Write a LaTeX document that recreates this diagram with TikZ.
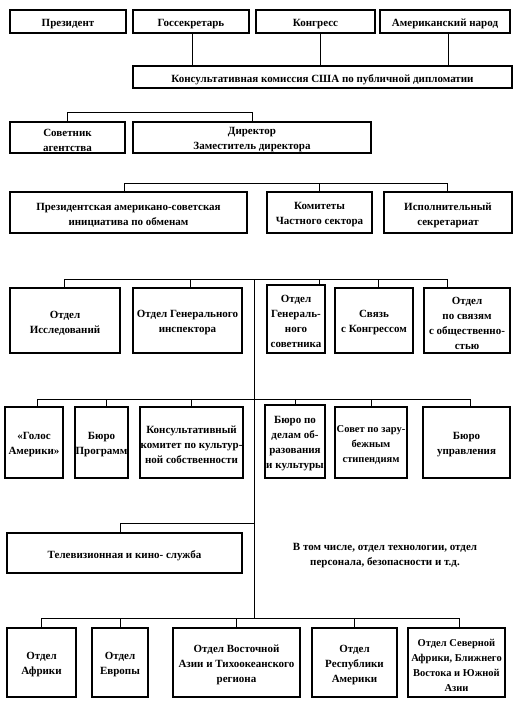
\documentclass[tikz,border=0pt]{standalone}
\usepackage{fontspec}
\setmainfont{Liberation Serif}
\begin{document}
\begin{tikzpicture}[x=1pt,y=-1pt,
  box/.style={draw,line width=1.1pt,inner sep=0pt},
  boxtext/.style={inner sep=0pt,align=center,
    font=\bfseries\fontsize{11}{15}\selectfont},
  small/.style={font=\bfseries\fontsize{10.5}{15}\selectfont},
  link/.style={line width=0.9pt}]
\useasboundingbox (0,0) rectangle (521,706);
% helper: \bx[textstyle]{name}{x1}{y1}{x2}{y2}{text}
\newcommand{\bx}[7][]{\node[box,minimum width={#5-#3},minimum height={#6-#4}] (#2) at ({(#3+#5)/2},{(#4+#6)/2}) {};
  \node[boxtext,#1] (#2-t) at ([yshift=-2.5pt]#2.center) {#7};}
% Row 1
\bx{pres}{10}{10}{126}{33}{Президент}
\bx{gos}{133}{10}{249}{33}{Госсекретарь}
\bx{kon}{256}{10}{375}{33}{Конгресс}
\bx{nar}{380}{10}{510}{33}{Американский народ}
\bx{com}{133}{66}{512}{88}{Консультативная комиссия США по публичной дипломатии}
% Row 2
\bx{sov}{10}{122}{125}{153}{Советник\\агентства}
\bx{dir}{133}{122}{371}{153}{Директор\\Заместитель директора}
% Row 3
\bx{pai}{10}{192}{247}{233}{Президентская американо-советская\\инициатива по обменам}
\bx{kom}{267}{192}{372}{233}{Комитеты\\Частного сектора}
\bx{isp}{384}{192}{512}{233}{Исполнительный\\секретариат}
% Row 4
\bx{iss}{10}{288}{120}{353}{Отдел\\Исследований}
\bx{gin}{133}{288}{242}{353}{Отдел Генерального\\инспектора}
\bx{gso}{267}{285}{325}{353}{Отдел\\Генераль-\\ного\\советника}
\bx{svk}{335}{288}{413}{353}{Связь\\с Конгрессом}
\bx{sob}{424}{288}{510}{353}{Отдел\\по связям\\с общественно-\\стью}
% Row 5
\bx{gol}{5}{407}{63}{478}{«Голос\\Америки»}
\bx{bpr}{75}{407}{128}{478}{Бюро\\Программ}
\bx{kks}{140}{407}{243}{478}{Консультативный\\комитет по культур-\\ной собственности}
\bx{bok}{265}{405}{325}{478}{Бюро по\\делам об-\\разования\\и культуры}
\bx[small]{szs}{335}{407}{407}{478}{Совет по зару-\\бежным\\стипендиям}
\bx{bup}{423}{407}{510}{478}{Бюро\\управления}
% TV
\bx{tv}{7}{533}{242}{573}{Телевизионная и кино- служба}
\node[boxtext] (note) at (385,556)
  {В том числе, отдел технологии, отдел\\персонала, безопасности и т.д.};
% Bottom row
\bx{afr}{7}{628}{76}{697}{Отдел\\Африки}
\bx{evr}{92}{628}{148}{697}{Отдел\\Европы}
\bx{vaz}{173}{628}{300}{697}{Отдел Восточной\\Азии и Тихоокеанского\\региона}
\bx{ram}{312}{628}{397}{697}{Отдел\\Республики\\Америки}
\bx[small]{sab}{408}{628}{505}{697}{Отдел Северной\\Африки, Ближнего\\Востока и Южной\\Азии}

% connectors row1 -> commission
\draw[link] ([xshift=1pt]gos.south) -- ([xshift=1pt]gos.south |- com.north);
\draw[link] ([xshift=4.5pt]kon.south) -- ([xshift=4.5pt]kon.south |- com.north);
\draw[link] ([xshift=3pt]nar.south) -- ([xshift=3pt]nar.south |- com.north);
% bar sov/dir
\coordinate (r2) at (0,112);
\draw[link] (sov.north) |- (r2 -| dir.north) -- (dir.north);
% bar row 3
\coordinate (r3) at (0,183);
\draw[link] ([xshift=-4.5pt]pai.north) |- ([xshift=-1pt]isp.north |- r3) -- ([xshift=-1pt]isp.north);
\draw[link] (kom.north) -- (kom.north |- r3);
% bar row 4
\coordinate (r4) at (0,279);
\coordinate (main4) at (254,279);
\coordinate (main6) at (254,618);
\draw[link] ([xshift=-1pt]iss.north) |- ([xshift=-20pt]sob.north |- r4) -- ([xshift=-20pt]sob.north);
\draw[link] ([xshift=2.5pt]gin.north) -- ([xshift=2.5pt]gin.north |- r4);
\draw[link] ([xshift=23pt]gso.north) -- ([xshift=23pt]gso.north |- r4);
\draw[link] ([xshift=4pt]svk.north) -- ([xshift=4pt]svk.north |- r4);
\draw[link] (main4) -- (main6);
% bar row 5
\coordinate (r5) at (0,399);
\draw[link] ([xshift=3pt]gol.north) |- ([xshift=3.5pt]bup.north |- r5) -- ([xshift=3.5pt]bup.north);
\draw[link] ([xshift=4.5pt]bpr.north) -- ([xshift=4.5pt]bpr.north |- r5);
\draw[link] (kks.north) -- (kks.north |- r5);
\draw[link] (bok.north) -- (bok.north |- r5);
\draw[link] (szs.north) -- (szs.north |- r5);
% TV
\coordinate (r6) at (0,523);
\draw[link] ([xshift=-4.5pt]tv.north) |- (r6 -| main4);
% bottom bar
\coordinate (r7) at (0,618);
\draw[link] ([xshift=-0.5pt]afr.north) |- ([xshift=2.5pt]sab.north |- r7) -- ([xshift=2.5pt]sab.north);
\draw[link] (evr.north) -- (evr.north |- r7);
\draw[link] (vaz.north) -- (vaz.north |- r7);
\draw[link] (ram.north) -- (ram.north |- r7);
\end{tikzpicture}
\end{document}
